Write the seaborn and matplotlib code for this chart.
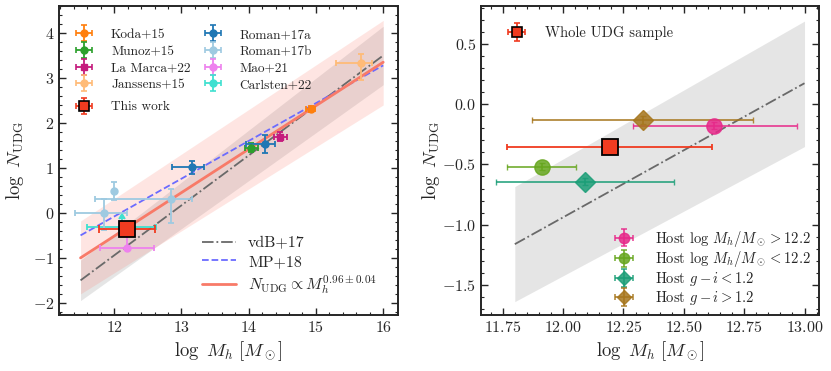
import numpy as np
import matplotlib
matplotlib.use("Agg")
import matplotlib.pyplot as plt
import seaborn as sns
from matplotlib.ticker import AutoMinorLocator, MultipleLocator, FormatStrFormatter
from matplotlib.lines import Line2D
from matplotlib.container import ErrorbarContainer
from matplotlib.legend_handler import HandlerErrorbar

sns.set_style("ticks")
plt.rcParams.update({
    "font.family": "serif",
    "font.serif": ["cmr10", "DejaVu Serif"],
    "mathtext.fontset": "cm",
    "axes.formatter.use_mathtext": True,
    "axes.unicode_minus": True,
    "axes.linewidth": 1.4,
    "xtick.direction": "in", "ytick.direction": "in",
    "xtick.top": True, "ytick.right": True,
    "xtick.major.size": 5, "ytick.major.size": 5,
    "xtick.minor.size": 2.5, "ytick.minor.size": 2.5,
    "xtick.major.width": 1.0, "ytick.major.width": 1.0,
    "xtick.minor.width": 0.8, "ytick.minor.width": 0.8,
    "xtick.minor.visible": True, "ytick.minor.visible": True,
    "xtick.labelsize": 11.5, "ytick.labelsize": 11.5,
})

# ---------------- left panel data ----------------
koda_x = [14.92]; koda_y = [2.31]; koda_xerr = [0.07]; koda_yerr = [0.07]
munoz_x = [14.04]; munoz_y = [1.45]; munoz_xerr = [0.10]; munoz_yerr = [0.10]
lamarca_x = [14.47]; lamarca_y = [1.69]; lamarca_xerr = [0.10]; lamarca_yerr = [0.10]
janssens_x = [15.67]; janssens_y = [3.33]
janssens_xerr_lo = [0.37]; janssens_xerr_hi = [0.17]
janssens_yerr_lo = [0.37]; janssens_yerr_hi = [0.20]
roman17a_x = [13.16, 14.24]; roman17a_y = [1.01, 1.54]
roman17a_xerr_lo = [0.30, 0.28]; roman17a_xerr_hi = [0.18, 0.15]
roman17a_yerr = [0.14, 0.20]
roman17b_x = [11.85, 12.00, 12.85]; roman17b_y = [0.00, 0.48, 0.31]
roman17b_xerr_lo = [0.43, 0.0, 1.13]; roman17b_xerr_hi = [0.34, 0.0, 0.30]
roman17b_yerr_lo = [0.38, 0.20, 0.53]; roman17b_yerr_hi = [0.30, 0.20, 0.22]
mao_x = [12.19]; mao_y = [-0.79]; mao_xerr = [0.40]; mao_yerr = [0.25]
carlsten_x = [12.11]; carlsten_y = [-0.31]; carlsten_xerr = [0.51]; carlsten_yerr = [0.18]
thiswork_x = [12.19]; thiswork_y = [-0.355]
thiswork_xerr_lo = [0.42]; thiswork_xerr_hi = [0.42]; thiswork_yerr = [0.04]

vdb_x = [11.5, 16.0]; vdb_y = [-1.5, 3.5]; vdb_lo = [-1.95, 2.85]; vdb_hi = [-1.05, 4.15]
mp_x = [11.5, 16.0]; mp_y = [-0.5, 3.28]
fit_x = [11.5, 16.0]; fit_y = [-1.0, 3.35]; fit_lo = [-1.8, 2.40]; fit_hi = [-0.18, 4.28]

# ---------------- right panel data ----------------
r_vdb_x = [11.8, 13.0]; r_vdb_y = [-1.162, 0.174]
r_vdb_lo = [-1.639, -0.352]; r_vdb_hi = [-0.684, 0.690]
whole_x = [12.193]; whole_y = [-0.352]; whole_xerr_lo = [0.425]; whole_xerr_hi = [0.424]; whole_yerr = [0.03]
hosthi_x = [12.627]; hosthi_y = [-0.178]; hosthi_xerr_lo = [0.336]; hosthi_xerr_hi = [0.340]; hosthi_yerr = [0.03]
hostlo_x = [11.912]; hostlo_y = [-0.518]; hostlo_xerr_lo = [0.144]; hostlo_xerr_hi = [0.142]; hostlo_yerr = [0.03]
blue_x = [12.089]; blue_y = [-0.643]; blue_xerr_lo = [0.367]; blue_xerr_hi = [0.371]; blue_yerr = [0.03]
red_x = [12.329]; red_y = [-0.131]; red_xerr_lo = [0.456]; red_xerr_hi = [0.457]; red_yerr = [0.03]

C_THIS = "#f03b20"
C_HI, C_LO, C_B, C_R = "#e7298a", "#66a61e", "#1b9e77", "#a6761d"

fig = plt.figure(figsize=(8.31, 3.71), dpi=100)
axL = fig.add_axes([59/831, 56/371, 339/831, 309/371])
axR = fig.add_axes([481/831, 56/371, 338/831, 309/371])

HMAP = {ErrorbarContainer: HandlerErrorbar(xerr_size=0.6)}


def proxy(ax, fmt, color, ms, **kw):
    """Legend-only errorbar handle (no data drawn)."""
    return ax.errorbar([np.nan], [np.nan], xerr=[1], yerr=[1], fmt=fmt, color=color, ms=ms,
                       capsize=2.5, elinewidth=1.3, capthick=1.2, ls="none", **kw)


# ---------- left ----------
ax = axL
ax.fill_between(vdb_x, vdb_lo, vdb_hi, color="gray", alpha=0.2, lw=0, zorder=1)
ax.fill_between(fit_x, fit_lo, fit_hi, color="salmon", alpha=0.2, lw=0, zorder=1)
sns.lineplot(x=vdb_x, y=vdb_y, ax=ax, color="dimgray", linestyle="-.", lw=1.3, zorder=2)
sns.lineplot(x=mp_x, y=mp_y, ax=ax, color="#6b6bff", linestyle="--", lw=1.3, zorder=2)
sns.lineplot(x=fit_x, y=fit_y, ax=ax, color="#f87a68", linestyle="-", lw=2.0, zorder=2)

ekw = dict(capsize=2.5, elinewidth=1.3, capthick=1.3, ms=5, ls="none", zorder=4)
ax.errorbar(koda_x, koda_y, xerr=koda_xerr, yerr=koda_yerr, fmt="o", color="#ff7f0e", **ekw)
ax.errorbar(munoz_x, munoz_y, xerr=munoz_xerr, yerr=munoz_yerr, fmt="o", color="#2ca02c", **ekw)
ax.errorbar(lamarca_x, lamarca_y, xerr=lamarca_xerr, yerr=lamarca_yerr, fmt="s", color="#c51b7d", **ekw)
ax.errorbar(janssens_x, janssens_y, xerr=[janssens_xerr_lo, janssens_xerr_hi],
            yerr=[janssens_yerr_lo, janssens_yerr_hi], fmt="o", color="#ffbb78", **ekw)
ax.errorbar(roman17a_x, roman17a_y, xerr=[roman17a_xerr_lo, roman17a_xerr_hi],
            yerr=roman17a_yerr, fmt="o", color="#1f77b4", **ekw)
ax.errorbar(roman17b_x, roman17b_y, xerr=[roman17b_xerr_lo, roman17b_xerr_hi],
            yerr=[roman17b_yerr_lo, roman17b_yerr_hi], fmt="o", color="#9ecae1", **ekw)
ax.errorbar(mao_x, mao_y, xerr=mao_xerr, yerr=mao_yerr, lolims=True, fmt="o", color="violet", **ekw)
ax.errorbar(carlsten_x, carlsten_y, xerr=carlsten_xerr, yerr=carlsten_yerr, lolims=True,
            fmt="o", color="turquoise", capsize=2.5, elinewidth=1.3, capthick=1.3, ms=4,
            ls="none", zorder=3)
ax.errorbar(thiswork_x, thiswork_y, xerr=[thiswork_xerr_lo, thiswork_xerr_hi], yerr=thiswork_yerr,
            fmt="s", color=C_THIS, mec="k", mew=1.3, ms=11, capsize=3, elinewidth=1.3,
            capthick=1.3, ls="none", zorder=6)

p_koda = proxy(ax, "o", "#ff7f0e", 5)
p_munoz = proxy(ax, "o", "#2ca02c", 5)
p_lam = proxy(ax, "s", "#c51b7d", 5)
p_jan = proxy(ax, "o", "#ffbb78", 5)
p_this = proxy(ax, "s", C_THIS, 7, mec="k", mew=1.2)
p_r17a = proxy(ax, "o", "#1f77b4", 5)
p_r17b = proxy(ax, "o", "#9ecae1", 5)
p_mao = proxy(ax, "o", "violet", 5)
p_car = proxy(ax, "o", "turquoise", 5)

lkw = dict(frameon=False, fontsize=9.6, handlelength=1.4, handletextpad=1.32,
           labelspacing=0.32, borderaxespad=0, handler_map=HMAP)
leg1 = ax.legend([p_koda, p_munoz, p_lam, p_jan, p_r17a, p_r17b, p_mao, p_car],
                 ["Koda+15", "Munoz+15", "La Marca+22", "Janssens+15",
                  "Roman+17a", "Roman+17b", "Mao+21", "Carlsten+22"],
                 ncol=2, loc="center left", bbox_to_anchor=(0.0307, 0.8256),
                 columnspacing=0.95, **lkw)
ax.add_artist(leg1)
leg1b = ax.legend([p_this], ["This work"], loc="center left",
                  bbox_to_anchor=(0.0307, 0.673), **lkw)
ax.add_artist(leg1b)
line_h = [Line2D([], [], color="dimgray", ls="-.", lw=1.3),
          Line2D([], [], color="#6b6bff", ls="--", lw=1.3),
          Line2D([], [], color="#f87a68", ls="-", lw=2.0)]
ax.legend(line_h, ["vdB+17", "MP+18", r"$N_{\rm UDG} \propto M_h^{0.96\pm0.04}$"],
          loc="center left", bbox_to_anchor=(0.403, 0.1585), frameon=False, fontsize=11.5,
          handlelength=2.13, handletextpad=0.75, labelspacing=0.25, borderaxespad=0)

ax.set_xlim(11.18, 16.22)
ax.set_ylim(-2.27, 4.6)
ax.xaxis.set_major_locator(MultipleLocator(1))
ax.yaxis.set_major_locator(MultipleLocator(1))
ax.xaxis.set_minor_locator(AutoMinorLocator(5))
ax.yaxis.set_minor_locator(AutoMinorLocator(5))
ax.set_xlabel(r"$\log\ M_h\ [M_\odot]$", fontsize=13.5, labelpad=3)
ax.set_ylabel(r"$\log\ N_{\rm UDG}$", fontsize=13.5, labelpad=5)

# ---------- right ----------
ax = axR
ax.fill_between(r_vdb_x, r_vdb_lo, r_vdb_hi, color="gray", alpha=0.2, lw=0, zorder=1)
sns.lineplot(x=r_vdb_x, y=r_vdb_y, ax=ax, color="dimgray", linestyle="-.", lw=1.3, zorder=2)

rkw = dict(capsize=2.5, elinewidth=1.3, capthick=1.0, ls="none", zorder=4)
ax.errorbar(whole_x, whole_y, xerr=[whole_xerr_lo, whole_xerr_hi], yerr=whole_yerr, fmt="s",
            color=C_THIS, mec="k", mew=1.3, ms=11, zorder=6,
            capsize=2.5, elinewidth=1.3, capthick=1.0, ls="none")
ax.errorbar(hosthi_x, hosthi_y, xerr=[hosthi_xerr_lo, hosthi_xerr_hi], yerr=hosthi_yerr,
            fmt="o", color=C_HI, ms=11, alpha=0.85, **rkw)
ax.errorbar(hostlo_x, hostlo_y, xerr=[hostlo_xerr_lo, hostlo_xerr_hi], yerr=hostlo_yerr,
            fmt="o", color=C_LO, ms=11, alpha=0.85, **rkw)
ax.errorbar(blue_x, blue_y, xerr=[blue_xerr_lo, blue_xerr_hi], yerr=blue_yerr,
            fmt="D", color=C_B, ms=10, alpha=0.85, **rkw)
ax.errorbar(red_x, red_y, xerr=[red_xerr_lo, red_xerr_hi], yerr=red_yerr,
            fmt="D", color=C_R, ms=10, alpha=0.85, **rkw)

q_whole = proxy(ax, "s", C_THIS, 7.5, mec="k", mew=1.2)
q_hi = proxy(ax, "o", C_HI, 7.5, alpha=0.85)
q_lo = proxy(ax, "o", C_LO, 7.5, alpha=0.85)
q_b = proxy(ax, "D", C_B, 7, alpha=0.85)
q_r = proxy(ax, "D", C_R, 7, alpha=0.85)

leg2 = ax.legend([q_whole], ["Whole UDG sample"], loc="center left", bbox_to_anchor=(0.058, 0.913),
                 frameon=False, fontsize=10.5, handlelength=1.4, handletextpad=1.24,
                 borderaxespad=0, handler_map=HMAP)
ax.add_artist(leg2)
ax.legend([q_hi, q_lo, q_b, q_r],
          [r"Host $\log\,M_h/M_\odot > 12.2$", r"Host $\log\,M_h/M_\odot < 12.2$",
           r"Host $g-i < 1.2$", r"Host $g-i > 1.2$"],
          loc="center left", bbox_to_anchor=(0.376, 0.1528), frameon=False, fontsize=10.5,
          handlelength=1.4, handletextpad=1.43, labelspacing=0.05, borderaxespad=0,
          handler_map=HMAP)

ax.set_xlim(11.66, 13.06)
ax.set_ylim(-1.75, 0.815)
ax.xaxis.set_major_locator(MultipleLocator(0.25))
ax.yaxis.set_major_locator(MultipleLocator(0.5))
ax.xaxis.set_minor_locator(AutoMinorLocator(5))
ax.yaxis.set_minor_locator(AutoMinorLocator(5))
ax.xaxis.set_major_formatter(FormatStrFormatter(r"$%.2f$"))
ax.yaxis.set_major_formatter(FormatStrFormatter(r"$%.1f$"))
ax.set_xlabel(r"$\log\ M_h\ [M_\odot]$", fontsize=13.5, labelpad=3)
ax.set_ylabel(r"$\log\ N_{\rm UDG}$", fontsize=13.5, labelpad=0)

for a in (axL, axR):
    for s in a.spines.values():
        s.set_linewidth(1.4)

fig.savefig("out.png", dpi=100)
